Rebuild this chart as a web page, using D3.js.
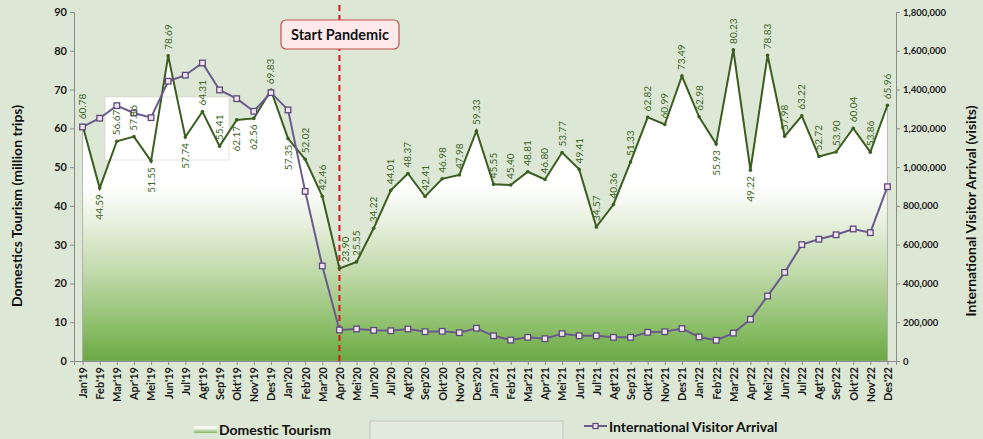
<!DOCTYPE html>
<html>
<head>
<meta charset="utf-8">
<script src="https://cdn.jsdelivr.net/npm/d3@7"></script>
<style>
  body { margin: 0; background: #dde7d5; }
  svg { display: block; font-family: Lato, "Noto Sans", sans-serif; }
</style>
</head>
<body>
<div id="chart"></div>
<script>
var months = ["Jan'19","Feb'19","Mar'19","Apr'19","Mei'19","Jun'19","Jul'19","Agt'19","Sep'19","Okt'19","Nov'19","Des'19",
  "Jan'20","Feb'20","Mar'20","Apr'20","Mei'20","Jun'20","Jul'20","Agt'20","Sep'20","Okt'20","Nov'20","Des'20",
  "Jan'21","Feb'21","Mar'21","Apr'21","Mei'21","Jun'21","Jul'21","Agt'21","Sep'21","Okt'21","Nov'21","Des'21",
  "Jan'22","Feb'22","Mar'22","Apr'22","Mei'22","Jun'22","Jul'22","Agt'22","Sep'22","Okt'22","Nov'22","Des'22"];

// domestic tourism, million trips
var domestic = [60.78,44.59,56.67,57.86,51.55,78.69,57.74,64.31,55.41,62.17,62.56,69.83,
  57.35,52.02,42.46,23.90,25.55,34.22,44.01,48.37,42.41,46.98,47.98,59.33,
  45.55,45.40,48.81,46.80,53.77,49.41,34.57,40.36,51.33,62.82,60.99,73.49,
  62.98,55.93,80.23,49.22,78.83,57.98,63.22,52.72,53.90,60.04,53.86,65.96];

// where the value label sits: a = above point, b = below, r = above, nudged right
var labelPos = ["a","b","a","a","b","a","b","a","a","b","b","a",
  "b","a","a","r","a","a","a","a","a","a","a","a",
  "a","a","a","a","a","a","a","a","a","a","a","a",
  "a","b","a","b","a","a","a","a","a","a","a","a"];

// international visitor arrivals
var international = [1207000,1252000,1317000,1279000,1255000,1443000,1474000,1537000,1398000,1353000,1288000,1384000,
  1295000,875000,490000,160000,165000,158000,156000,165000,151000,153000,146000,169000,
  130000,108000,122000,115000,141000,130000,130000,122000,122000,148000,151000,167000,
  124000,107000,144000,215000,335000,457000,600000,628000,651000,681000,662000,899000];

var leftTicks = [0,10,20,30,40,50,60,70,80,90];
var rightTicks = [0,200000,400000,600000,800000,1000000,1200000,1400000,1600000,1800000];
var pandemicMonth = "Apr'20";

var width = 983, height = 439;
var pLeft = 74, pRight = 896, pTop = 12, pBottom = 361;

var svg = d3.select("#chart").append("svg")
  .attr("width", width).attr("height", height);

svg.append("rect").attr("width", width).attr("height", height).attr("fill", "#dde7d5");

var x = d3.scalePoint().domain(months).range([pLeft, pRight]).padding(0.5);
var y = d3.scaleLinear().domain([0, 90]).range([pBottom, pTop]);
var y2 = d3.scaleLinear().domain([0, 1800000]).range([pBottom, pTop]);

var defs = svg.append("defs");
var grad = defs.append("linearGradient").attr("id", "areaGrad")
  .attr("gradientUnits", "userSpaceOnUse")
  .attr("x1", 0).attr("y1", pTop).attr("x2", 0).attr("y2", pBottom);
[[0,"#ffffff"],[0.5,"#ffffff"],[0.6,"#e8f0df"],[0.75,"#bfd9a8"],[0.9,"#8dbf6b"],[1,"#6aa843"]].forEach(function (s) {
  grad.append("stop").attr("offset", s[0]).attr("stop-color", s[1]);
});
var grad2 = defs.append("linearGradient").attr("id", "legGrad")
  .attr("x1", 0).attr("y1", 0).attr("x2", 0).attr("y2", 1);
grad2.append("stop").attr("offset", 0).attr("stop-color", "#ffffff");
grad2.append("stop").attr("offset", 0.35).attr("stop-color", "#f4f8ef");
grad2.append("stop").attr("offset", 1).attr("stop-color", "#7fb55a");

// domestic area
var area = d3.area()
  .x(function (d, i) { return x(months[i]); })
  .y0(pBottom)
  .y1(function (d) { return y(d); });

svg.append("path")
  .datum(domestic)
  .attr("d", area)
  .attr("fill", "url(#areaGrad)")
  .attr("stroke", "#a8a8a8")
  .attr("stroke-width", 0.8);

// stray white box that sits in the original
svg.append("rect")
  .attr("x", 105).attr("y", 97).attr("width", 124).attr("height", 63)
  .attr("fill", "#ffffff").attr("stroke", "#d0d0d0").attr("stroke-width", 0.6);

// axes
var gl = svg.append("g").attr("transform", "translate(" + pLeft + ",0)")
  .call(d3.axisLeft(y).tickValues(leftTicks).tickSize(4).tickPadding(3));
var gr = svg.append("g").attr("transform", "translate(" + pRight + ",0)")
  .call(d3.axisRight(y2).tickValues(rightTicks).tickSize(4).tickPadding(3).tickFormat(d3.format(",")));
var gb = svg.append("g").attr("transform", "translate(0," + pBottom + ")")
  .call(d3.axisBottom(x).tickSize(4).tickPadding(3));

[gl, gr, gb].forEach(function (g) {
  g.selectAll("path, line").attr("stroke", "#8c8c8c");
  g.selectAll("text").attr("fill", "#1a1a1a").attr("font-weight", "bold").attr("font-family", "Lato, sans-serif");
});
gl.selectAll("text").attr("font-size", "11px");
gr.selectAll("text").attr("font-size", "9.5px");
gb.selectAll("text")
  .attr("font-size", "11px")
  .attr("text-anchor", "end")
  .attr("transform", "rotate(-90)")
  .attr("x", -6).attr("y", 0).attr("dy", "0.35em");

// pandemic line and box
var px = x(pandemicMonth);
svg.append("line")
  .attr("x1", px).attr("x2", px).attr("y1", 5).attr("y2", pBottom)
  .attr("stroke", "#d9141b").attr("stroke-width", 2).attr("stroke-dasharray", "6,4");

svg.append("rect")
  .attr("x", 281).attr("y", 20).attr("width", 118).attr("height", 29).attr("rx", 5)
  .attr("fill", "#ffe9ea").attr("stroke", "#c0504d").attr("stroke-width", 1.2);
svg.append("text")
  .attr("x", 340).attr("y", 35).attr("dy", "0.35em")
  .attr("text-anchor", "middle").attr("font-weight", "bold").attr("font-size", "14.5px")
  .attr("fill", "#111").text("Start Pandemic");

// domestic line
var line = d3.line()
  .x(function (d, i) { return x(months[i]); })
  .y(function (d) { return y(d); });

svg.append("path").datum(domestic)
  .attr("d", line).attr("fill", "none")
  .attr("stroke", "#3b5e20").attr("stroke-width", 2);

svg.selectAll(".dmark").data(domestic).enter().append("circle")
  .attr("cx", function (d, i) { return x(months[i]); })
  .attr("cy", function (d) { return y(d); })
  .attr("r", 1.8).attr("fill", "#3b5e20");

// international line
var line2 = d3.line()
  .x(function (d, i) { return x(months[i]); })
  .y(function (d) { return y2(d); });

svg.append("path").datum(international)
  .attr("d", line2).attr("fill", "none")
  .attr("stroke", "#6b5a8c").attr("stroke-width", 2);

svg.selectAll(".imark").data(international).enter().append("rect")
  .attr("x", function (d, i) { return x(months[i]) - 2.8; })
  .attr("y", function (d) { return y2(d) - 2.8; })
  .attr("width", 5.6).attr("height", 5.6)
  .attr("fill", "#f3e3ef").attr("stroke", "#5b4b7c").attr("stroke-width", 1.3);

// value labels
svg.selectAll(".dlabel").data(domestic).enter().append("text")
  .attr("transform", function (d, i) {
    var off = labelPos[i] === "b" ? 6 : -6;
    var nudge = labelPos[i] === "r" ? 6 : 0;
    return "translate(" + (x(months[i]) + nudge) + "," + (y(d) + off) + ") rotate(-90)";
  })
  .attr("text-anchor", function (d, i) { return labelPos[i] === "b" ? "end" : "start"; })
  .attr("dy", "0.35em")
  .attr("font-size", "10px")
  .attr("fill", "#3b6424")
  .text(function (d) { return d.toFixed(2); });

// axis titles
svg.append("text")
  .attr("transform", "translate(17,206) rotate(-90)")
  .attr("text-anchor", "middle").attr("dy", "0.35em")
  .attr("font-weight", "bold").attr("font-size", "14px").attr("fill", "#111")
  .text("Domestics Tourism (million trips)");
svg.append("text")
  .attr("transform", "translate(971,211) rotate(-90)")
  .attr("text-anchor", "middle").attr("dy", "0.35em")
  .attr("font-weight", "bold").attr("font-size", "14px").attr("fill", "#111")
  .text("International Visitor Arrival (visits)");

// legend
svg.append("rect").attr("x", 194).attr("y", 426).attr("width", 23).attr("height", 7)
  .attr("fill", "url(#legGrad)");
svg.append("text").attr("x", 219).attr("y", 430).attr("dy", "0.35em")
  .attr("font-weight", "bold").attr("font-size", "14px").attr("fill", "#111")
  .text("Domestic Tourism");

svg.append("rect").attr("x", 370).attr("y", 421).attr("width", 193).attr("height", 30)
  .attr("fill", "#e3ebdd").attr("stroke", "#bcbcbc").attr("stroke-width", 0.8);

svg.append("line").attr("x1", 584).attr("x2", 607).attr("y1", 426).attr("y2", 426)
  .attr("stroke", "#6b5a8c").attr("stroke-width", 2);
svg.append("rect").attr("x", 593).attr("y", 423.5).attr("width", 5).attr("height", 5)
  .attr("fill", "#f3e3ef").attr("stroke", "#5b4b7c").attr("stroke-width", 1.2);
svg.append("text").attr("x", 609).attr("y", 427).attr("dy", "0.35em")
  .attr("font-weight", "bold").attr("font-size", "14px").attr("fill", "#111")
  .text("International Visitor Arrival");
</script>
</body>
</html>
